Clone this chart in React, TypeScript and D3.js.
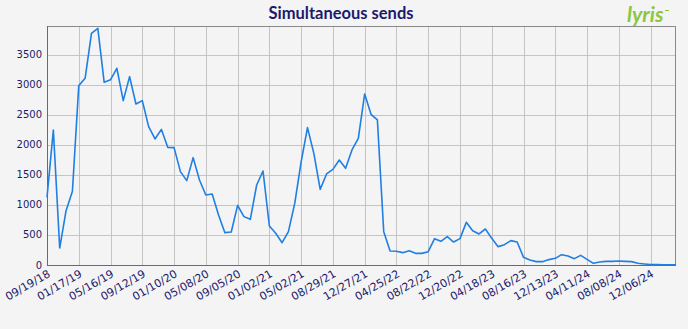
import React from "react";
import * as d3 from "d3";

const title = "Simultaneous sends";
const tickLabels = [
  "09/19/18", "01/17/19", "05/16/19", "09/12/19", "01/10/20", "05/08/20", "09/05/20",
  "01/02/21", "05/02/21", "08/29/21", "12/27/21", "04/25/22", "08/22/22", "12/20/22",
  "04/18/23", "08/16/23", "12/13/23", "04/11/24", "08/08/24", "12/06/24",
];
const yTicks = [0, 500, 1000, 1500, 2000, 2500, 3000, 3500];
const values = [
  1128, 2250, 283, 905, 1228, 2989, 3111, 3861, 3944, 3044,
  3089, 3278, 2739, 3139, 2683, 2739, 2306, 2100, 2261, 1961,
  1956, 1556, 1406, 1789, 1417, 1167, 1183, 833, 539, 550,
  994, 806, 761, 1333, 1567, 650, 528, 372, 556, 1030,
  1720, 2289, 1861, 1261, 1517, 1594, 1750, 1611, 1917, 2111,
  2850, 2511, 2417, 556, 233, 228, 206, 239, 194, 194,
  222, 439, 394, 472, 383, 439, 711, 572, 517, 600,
  444, 306, 339, 406, 383, 128, 83, 56, 56, 90,
  111, 172, 150, 106, 161, 94, 28, 50, 61, 61,
  67, 61, 56, 28, 17, 8, 6, 5, 5, 5,
];
const pointsPerLabel = 5;

const W = 688;
const H = 329;
const M = { left: 47, right: 676, top: 26, bottom: 265 };
const navy = "#1c1a6b";

export default function App() {
  const x = d3.scaleLinear().domain([0, values.length - 1]).range([M.left, M.right]);
  const y = d3.scaleLinear().domain([0, 3983]).range([M.bottom, M.top]);
  const line = d3
    .line<number>()
    .x((_, i) => x(i))
    .y((d) => y(d));
  const gridXs = tickLabels.map((_, i) => i * pointsPerLabel);

  return (
    <svg
      width={W}
      height={H}
      style={{ position: "absolute", left: 0, top: 0, display: "block" }}
    >
      <rect x={0} y={0} width={W} height={H} fill="#f4f4f4" />
      <text
        x={341}
        y={19}
        textAnchor="middle"
        fontFamily="Lato"
        fontWeight="bold"
        fontSize={16.5}
        fill={navy}
      >
        {title}
      </text>
      <text
        x={627}
        y={22}
        fontFamily="Lato"
        fontWeight="bold"
        fontStyle="italic"
        fontSize={21}
        fill="#8cc63e"
      >
        lyris
      </text>
      <line x1={665} x2={669} y1={10.5} y2={10.5} stroke="#8cc63e" strokeWidth={1} />
      {/* grid */}
      {yTicks.map((t) => (
        <line
          key={"gy" + t}
          x1={M.left}
          x2={M.right}
          y1={Math.round(y(t)) + 0.5}
          y2={Math.round(y(t)) + 0.5}
          stroke="#c4c4c4"
          strokeWidth={1}
        />
      ))}
      {gridXs.map((g) => (
        <line
          key={"gx" + g}
          x1={Math.round(x(g)) + 0.5}
          x2={Math.round(x(g)) + 0.5}
          y1={M.top}
          y2={M.bottom}
          stroke="#c4c4c4"
          strokeWidth={1}
        />
      ))}
      {/* frame */}
      <rect
        x={M.left + 0.5}
        y={M.top + 0.5}
        width={M.right - M.left - 1}
        height={M.bottom - M.top}
        fill="none"
        stroke="#8a8a8a"
        strokeWidth={1}
      />
      <line x1={M.left + 0.5} x2={M.left + 0.5} y1={M.top} y2={M.bottom + 1} stroke="#6a6a6a" />
      <line x1={M.left} x2={M.right} y1={M.bottom + 0.5} y2={M.bottom + 0.5} stroke="#6a6a6a" />
      {/* y labels */}
      {yTicks.map((t) => (
        <text
          key={"yl" + t}
          x={42}
          y={y(t) + 3.5}
          textAnchor="end"
          fontFamily="DejaVu Sans"
          fontSize={10}
          fill={navy}
        >
          {t}
        </text>
      ))}
      {/* x labels */}
      {gridXs.map((g, i) => (
        <text
          key={"xl" + g}
          transform={`translate(${x(g) + 4},${M.bottom + 11}) rotate(-30)`}
          textAnchor="end"
          fontFamily="DejaVu Sans"
          fontSize={11}
          fill={navy}
        >
          {tickLabels[i]}
        </text>
      ))}
      <path d={line(values) ?? ""} fill="none" stroke="#1f7fe3" strokeWidth={1.6} strokeLinejoin="round" />
    </svg>
  );
}
